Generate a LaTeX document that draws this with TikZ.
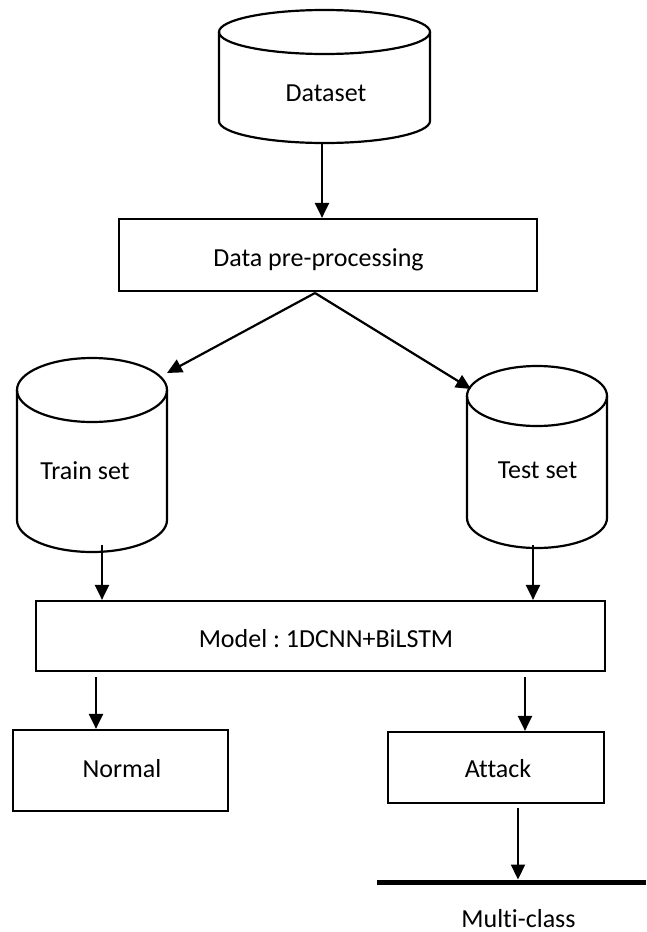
\documentclass[tikz,border=0pt]{standalone}
\usepackage{fontspec}
\setmainfont{Carlito}[Ligatures={NoCommon}]
\frenchspacing
\usetikzlibrary{arrows.meta}
\newcommand\mycyl[5]{% #1 cx, #2 top y, #3 bottom y, #4 rx, #5 ry
  \draw (#1-#4,#2) -- (#1-#4,#3) arc[start angle=180,end angle=0,x radius=#4,y radius=#5] -- (#1+#4,#2);
  \draw (#1,#2) ellipse[x radius=#4, y radius=#5];}
\begin{document}
\begin{tikzpicture}[x=1pt,y=-1pt,line width=2.2pt,
  box/.style={draw, line width=2.2pt, inner sep=0pt},
  lbl/.style={inner sep=0pt, anchor=base, font=\fontsize{26}{30}\selectfont\frenchspacing},
  arr/.style={-{Triangle[length=15pt,width=14pt]}, line width=2.2pt}]
\useasboundingbox (0,0) rectangle (646,932);
% cylinders
\mycyl{324.5}{32}{121}{105.5}{22}
\mycyl{92}{390}{520}{75}{32}
\mycyl{537}{396}{518}{70}{30}
\node[lbl] (dstxt) at (326,101.7) {Dataset};
\node[lbl] (trtxt) at (85,479) {Train set};
\node[lbl] (tetxt) at (537.5,478) {Test set};
% boxes
\node[box, minimum width=418pt, minimum height=72pt] (pre) at (328,255) {};
\node[box, minimum width=569pt, minimum height=70pt] (model) at (320.5,636) {};
\node[box, minimum width=215pt, minimum height=81pt] (normal) at (120.5,770.5) {};
\node[box, minimum width=216pt, minimum height=71pt] (attack) at (496,767.5) {};
\node[lbl] (pretxt) at (318.5,266.7) {Data pre-processing};
\node[lbl] (modeltxt) at (326,647) {Model : 1DCNN+BiLSTM};
\node[lbl] (normaltxt) at (122,777) {Normal};
\node[lbl] (attacktxt) at (498,777) {Attack};
\node[lbl] (mctxt) at (518.5,927) {Multi-class};
% coordinates
\coordinate (dsb) at (322,143);
\coordinate (split) at (315,293);
\coordinate (trtip) at (167,373);
\coordinate (tetip) at (471,389);
\coordinate (trb) at (102,545);
\coordinate (teb) at (533,545);
\coordinate (m1) at (96,677);
\coordinate (m2) at (525,677);
\coordinate (a1) at (518,808);
\coordinate (barL) at (377,882);
\coordinate (barR) at (646,882);
\coordinate (bartop) at (518,879.5);
% connectors
\draw[arr] (dsb) -- (dsb |- pre.north);
\draw[arr] (split) -- (trtip);
\draw[arr] (split) -- (tetip);
\draw[arr] (trb) -- (trb |- model.north);
\draw[arr] (teb) -- (teb |- model.north);
\draw[arr] (m1) -- (m1 |- normal.north);
\draw[arr] (m2) -- (m2 |- attack.north);
\draw[arr] (a1) -- (bartop);
\draw[line width=5pt] (barL) -- (barR);
\end{tikzpicture}
\end{document}
